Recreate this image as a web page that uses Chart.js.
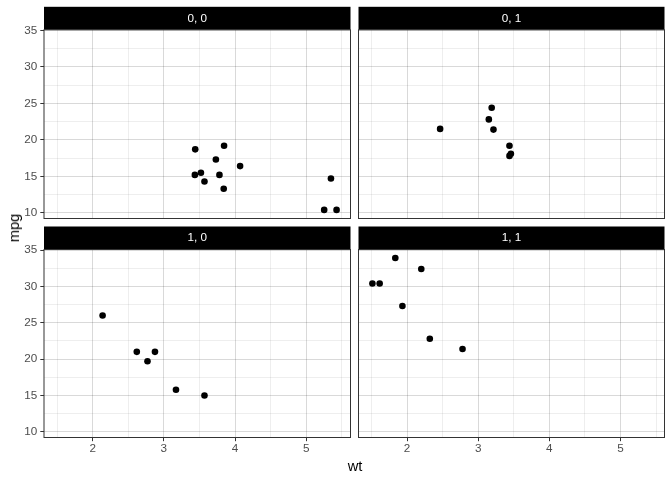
<!DOCTYPE html>
<html>
<head>
<meta charset="utf-8">
<script src="https://cdn.jsdelivr.net/npm/chart.js@4.4.1/dist/chart.umd.min.js"></script>
<style>
  html, body { margin: 0; padding: 0; background: #ffffff; }
  #wrap { position: relative; width: 672px; height: 480px; overflow: hidden; background: #fff; }
  #wrap canvas { position: absolute; left: 0; top: 0; }
  .axt { position: absolute; font-family: "Liberation Sans", Arial, sans-serif; font-size: 14.67px; color: #000; white-space: nowrap; }
</style>
</head>
<body>
<div id="wrap">
  <canvas id="c00" width="672" height="480"></canvas>
  <canvas id="c01" width="672" height="480"></canvas>
  <canvas id="c10" width="672" height="480"></canvas>
  <canvas id="c11" width="672" height="480"></canvas>
  <div class="axt" id="xt" style="left:355px; top:466px; transform: translate(-50%,-50%);">wt</div>
  <div class="axt" id="yt" style="left:14px; top:228px; transform: translate(-50%,-50%) rotate(-90deg);">mpg</div>
</div>
<script>
// ---- data (mtcars, faceted by am, vs) ----
const panelLabels = ["0, 0", "0, 1", "1, 0", "1, 1"];

const wt00  = [3.440, 3.570, 4.070, 3.730, 3.780, 5.250, 5.424, 5.345, 3.520, 3.435, 3.840, 3.845];
const mpg00 = [18.7, 14.3, 16.4, 17.3, 15.2, 10.4, 10.4, 14.7, 15.5, 15.2, 13.3, 19.2];

const wt01  = [3.215, 3.460, 3.190, 3.150, 3.440, 3.440, 2.465];
const mpg01 = [21.4, 18.1, 24.4, 22.8, 19.2, 17.8, 21.5];

const wt10  = [2.620, 2.875, 2.140, 3.170, 2.770, 3.570];
const mpg10 = [21.0, 21.0, 26.0, 15.8, 19.7, 15.0];

const wt11  = [2.320, 2.200, 1.615, 1.835, 1.935, 1.513, 2.780];
const mpg11 = [22.8, 32.4, 30.4, 33.9, 27.3, 30.4, 21.4];

// ---- axes ----
const xMajor = [2, 3, 4, 5];
const xMinor = [1.5, 2.5, 3.5, 4.5, 5.5];
const yMajor = [10, 15, 20, 25, 30, 35];
const yMinor = [12.5, 17.5, 22.5, 27.5, 32.5];
const xMin = 1.3175, xMax = 5.6195;
const yMin = 9.225, yMax = 35.075;

// ---- layout (pixels) ----
const FONT = '"Liberation Sans", Arial, sans-serif';
const colL = [44, 350.5], colR = [358.5, 664.5];
const rowT = [29.8, 218.5], rowB = [249.5, 437.5];
const stripH = 23;
const Y_AXIS_W = 40, X_AXIS_H = 30;

const majorGrid = 'rgba(0,0,0,0.15)';
const minorGrid = 'rgba(0,0,0,0.065)';

function pts(xs, ys) { return xs.map((x, i) => ({ x: x, y: ys[i] })); }

const stripPlugin = {
  id: 'strip',
  afterDraw(chart, args, opts) {
    const a = chart.chartArea, ctx = chart.ctx;
    ctx.save();
    ctx.fillStyle = '#000';
    ctx.fillRect(a.left, a.top - stripH, a.right - a.left, stripH);
    ctx.fillStyle = '#fff';
    ctx.font = '11.7px ' + FONT;
    ctx.textAlign = 'center';
    ctx.textBaseline = 'middle';
    ctx.fillText(opts.label, (a.left + a.right) / 2, a.top - stripH / 2);
    ctx.strokeStyle = '#333';
    ctx.lineWidth = 1;
    ctx.strokeRect(a.left, a.top, a.right - a.left, a.bottom - a.top);
    ctx.restore();
  }
};

function makePanel(id, label, xs, ys, col, row, showX, showY) {
  const xTicks = xMajor.concat(xMinor).sort((a, b) => a - b);
  const yTicks = yMajor.concat(yMinor).sort((a, b) => a - b);
  const padding = {
    left: col[0] - (showY ? Y_AXIS_W : 0),
    right: 672 - col[1],
    top: row[0],
    bottom: 480 - row[1] - (showX ? X_AXIS_H : 0)
  };
  new Chart(document.getElementById(id), {
    type: 'scatter',
    data: {
      datasets: [{
        data: pts(xs, ys),
        backgroundColor: '#000',
        borderColor: '#000',
        pointRadius: 3.3,
        pointHoverRadius: 3.3,
        borderWidth: 0
      }]
    },
    plugins: [stripPlugin],
    options: {
      responsive: false,
      animation: false,
      devicePixelRatio: 1,
      events: [],
      layout: { padding: padding },
      plugins: {
        legend: { display: false },
        tooltip: { enabled: false },
        title: { display: false },
        strip: { label: label }
      },
      scales: {
        x: {
          type: 'linear',
          min: xMin, max: xMax,
          afterBuildTicks: s => { s.ticks = xTicks.map(v => ({ value: v })); },
          afterFit: s => { s.height = showX ? X_AXIS_H : 0; },
          border: { display: false },
          grid: {
            color: c => xMajor.includes(c.tick.value) ? majorGrid : minorGrid,
            lineWidth: 1,
            drawTicks: showX,
            tickLength: 3.7,
            tickColor: c => xMajor.includes(c.tick.value) ? '#333' : 'rgba(0,0,0,0)'
          },
          ticks: {
            display: showX,
            autoSkip: false,
            maxRotation: 0,
            padding: 1,
            color: '#4d4d4d',
            font: { family: FONT, size: 11.7 },
            callback: v => xMajor.includes(v) ? String(v) : ''
          }
        },
        y: {
          type: 'linear',
          min: yMin, max: yMax,
          afterBuildTicks: s => { s.ticks = yTicks.map(v => ({ value: v })); },
          afterFit: s => { s.width = showY ? Y_AXIS_W : 0; },
          border: { display: false },
          grid: {
            color: c => yMajor.includes(c.tick.value) ? majorGrid : minorGrid,
            lineWidth: 1,
            drawTicks: showY,
            tickLength: 3.7,
            tickColor: c => yMajor.includes(c.tick.value) ? '#333' : 'rgba(0,0,0,0)'
          },
          ticks: {
            display: showY,
            autoSkip: false,
            padding: 3,
            color: '#4d4d4d',
            font: { family: FONT, size: 11.7 },
            callback: v => yMajor.includes(v) ? String(v) : ''
          }
        }
      }
    }
  });
}

makePanel('c00', panelLabels[0], wt00, mpg00, colL, rowT, false, true);
makePanel('c01', panelLabels[1], wt01, mpg01, colR, rowT, false, false);
makePanel('c10', panelLabels[2], wt10, mpg10, colL, rowB, true, true);
makePanel('c11', panelLabels[3], wt11, mpg11, colR, rowB, true, false);
</script>
</body>
</html>
